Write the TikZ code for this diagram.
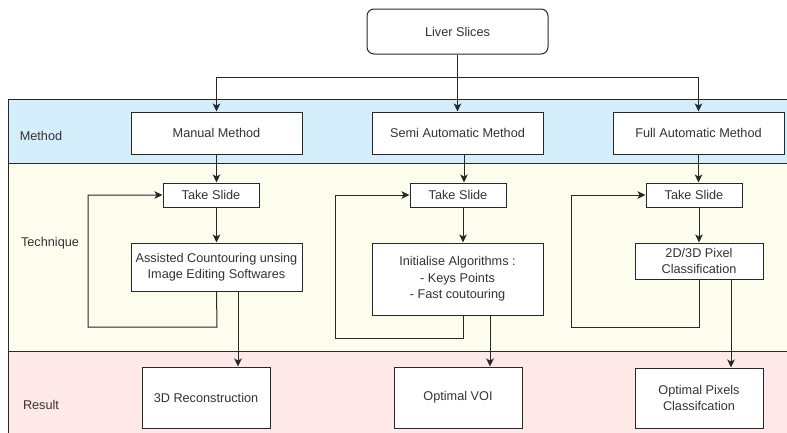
\documentclass[tikz,border=0pt]{standalone}
\usepackage{fontspec}
\setmainfont{Liberation Sans}
\usetikzlibrary{arrows.meta}
\definecolor{bandblue}{RGB}{212,238,252}
\definecolor{bandyellow}{RGB}{253,253,238}
\definecolor{bandpink}{RGB}{255,232,232}
\definecolor{txt}{RGB}{51,51,51}
\definecolor{ln}{RGB}{40,40,40}
\tikzset{
  box/.style={draw=ln, line width=1pt, fill=white, inner sep=2pt, align=center,
    font=\fontsize{12.7}{16.5}\selectfont, text=txt},
  lab/.style={font=\fontsize{12.7}{16.5}\selectfont, text=txt},
  band/.style={draw=ln, line width=0.9pt},
  arr/.style={draw=ln, line width=1pt, -{Stealth[length=8pt,width=7.5pt,inset=2pt]}},
}
\begin{document}
\begin{tikzpicture}[x=1pt,y=-1pt]
\useasboundingbox (0,0) rectangle (787,432);
\begin{scope}
\clip (0,0) rectangle (787,432);
\path[band, fill=bandblue] (8,99) rectangle (792,163);
\path[band, fill=bandyellow] (8,163) rectangle (792,351);
\path[band, fill=bandpink] (8,351) rectangle (792,437);
\end{scope}

\node[lab] (lm) at (41,136) {Method};
\node[lab] (lt) at (50,243) {Technique};
\node[lab] (lr) at (41,405) {Result};

\node[box, rounded corners=7pt, minimum width=181pt, minimum height=45pt] (liver) at (457.5,31.5) {Liver Slices};

\node[box, minimum width=171pt, minimum height=42pt] (m1) at (216.5,133) {Manual Method};
\node[box, minimum width=171pt, minimum height=42pt] (m2) at (457.5,133) {Semi Automatic Method};
\node[box, minimum width=171pt, minimum height=42pt] (m3) at (698.5,133) {Full Automatic Method};

\node[box, minimum width=96pt, minimum height=24pt] (t1) at (211,195) {Take Slide};
\node[box, minimum width=96pt, minimum height=24pt] (t2) at (458,195) {Take Slide};
\node[box, minimum width=96pt, minimum height=24pt] (t3) at (694,195) {Take Slide};

\node[box, minimum width=171pt, minimum height=48pt] (a1) at (216.5,267) {Assisted Countouring unsing\\Image Editing Softwares};
\node[box, minimum width=171pt, minimum height=72pt] (a2) at (457.5,279) {Initialise Algorithms :\\- Keys Points\\- Fast coutouring};
\node[box, minimum width=128pt, minimum height=36pt] (a3) at (699,261) {2D/3D Pixel\\Classification};

\node[box, minimum width=128pt, minimum height=61pt] (r1) at (206,397.5) {3D Reconstruction};
\node[box, minimum width=128pt, minimum height=61pt] (r2) at (458,397.5) {Optimal VOI};
\node[box, minimum width=128pt, minimum height=60pt] (r3) at (699,398) {Optimal Pixels\\Classifcation};

\coordinate (split) at (458,77);
\draw[arr] (liver.south) -- (m2.north);
\draw[arr] (split) -| (m1.north);
\draw[arr] (split) -| (m3.north);

\draw[arr] (m1.south) -- (m1.south |- t1.north);
\draw[arr] ([xshift=6.5pt]m2.south) -- ([xshift=6.5pt]m2.south |- t2.north);
\draw[arr] (m3.south) -- (m3.south |- t3.north);

\draw[arr] (a1.north |- t1.south) -- (a1.north);
\draw[arr] ([xshift=5pt]t2.south) -- ([xshift=5pt]t2.south |- a2.north);
\draw[arr] (a3.north |- t3.south) -- (a3.north);

\coordinate (l1a) at (217,327);
\coordinate (l1b) at (88,327);
\draw[arr] (a1.south) -- (l1a) -- (l1b) |- (t1.west);
\coordinate (l2a) at (463,338);
\coordinate (l2b) at (335,338);
\draw[arr] ([xshift=5.5pt]a2.south) -- (l2a) -- (l2b) |- (t2.west);
\coordinate (l3a) at (699,327);
\coordinate (l3b) at (571,327);
\draw[arr] (a3.south) -- (l3a) -- (l3b) |- (t3.west);

\draw[arr] ([xshift=21.5pt]a1.south) -- ([xshift=21.5pt]a1.south |- r1.north);
\draw[arr] ([xshift=32.5pt]a2.south) -- ([xshift=32.5pt]a2.south |- r2.north);
\draw[arr] ([xshift=32pt]a3.south) -- ([xshift=32pt]a3.south |- r3.north);
\end{tikzpicture}
\end{document}
